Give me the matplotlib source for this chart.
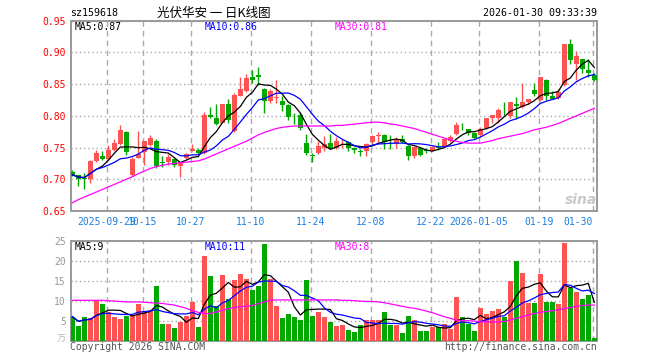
import matplotlib.pyplot as plt
import numpy as np
import pandas as pd

plt.rcParams['font.family'] = ['DejaVu Sans Mono', 'Noto Sans CJK SC']

# daily candles, 2025-09-19 .. 2026-01-30
opens = [0.712, 0.706, 0.702, 0.700, 0.729, 0.737, 0.732, 0.746, 0.755, 0.775,
         0.707, 0.734, 0.743, 0.754, 0.760, 0.727, 0.728, 0.732, 0.721, 0.733,
         0.745, 0.746, 0.741, 0.802, 0.796, 0.789, 0.818, 0.776, 0.832, 0.839,
         0.861, 0.864, 0.842, 0.823, 0.828, 0.823, 0.817, 0.797, 0.802, 0.757,
         0.738, 0.741, 0.750, 0.757, 0.750, 0.758, 0.759, 0.750, 0.744, 0.744,
         0.758, 0.769, 0.770, 0.757, 0.755, 0.764, 0.753, 0.736, 0.749, 0.746,
         0.745, 0.751, 0.753, 0.760, 0.771, 0.786, 0.779, 0.773, 0.770, 0.781,
         0.796, 0.797, 0.808, 0.799, 0.819, 0.814, 0.822, 0.841, 0.825, 0.856,
         0.831, 0.828, 0.848, 0.914, 0.881, 0.889, 0.873, 0.865]
highs = [0.714, 0.707, 0.710, 0.731, 0.746, 0.744, 0.754, 0.763, 0.786, 0.776,
         0.735, 0.776, 0.761, 0.770, 0.763, 0.737, 0.740, 0.733, 0.728, 0.742,
         0.755, 0.750, 0.806, 0.814, 0.818, 0.819, 0.826, 0.836, 0.862, 0.866,
         0.873, 0.877, 0.844, 0.842, 0.857, 0.831, 0.819, 0.805, 0.804, 0.771,
         0.742, 0.760, 0.768, 0.771, 0.767, 0.763, 0.760, 0.751, 0.747, 0.757,
         0.770, 0.775, 0.771, 0.770, 0.767, 0.770, 0.754, 0.752, 0.751, 0.749,
         0.753, 0.758, 0.765, 0.770, 0.791, 0.788, 0.780, 0.774, 0.782, 0.797,
         0.802, 0.812, 0.822, 0.822, 0.829, 0.851, 0.827, 0.851, 0.861, 0.858,
         0.839, 0.842, 0.914, 0.921, 0.902, 0.890, 0.890, 0.867]
lows = [0.705, 0.690, 0.684, 0.694, 0.728, 0.731, 0.731, 0.745, 0.754, 0.738,
        0.705, 0.733, 0.722, 0.752, 0.718, 0.719, 0.722, 0.719, 0.704, 0.732,
        0.744, 0.740, 0.740, 0.797, 0.785, 0.788, 0.788, 0.775, 0.831, 0.837,
        0.852, 0.849, 0.805, 0.821, 0.820, 0.807, 0.794, 0.787, 0.778, 0.738,
        0.728, 0.740, 0.744, 0.747, 0.748, 0.749, 0.745, 0.741, 0.737, 0.737,
        0.756, 0.757, 0.748, 0.748, 0.749, 0.757, 0.730, 0.733, 0.737, 0.741,
        0.744, 0.746, 0.752, 0.759, 0.770, 0.778, 0.770, 0.764, 0.767, 0.779,
        0.789, 0.788, 0.801, 0.796, 0.795, 0.813, 0.819, 0.831, 0.823, 0.825,
        0.826, 0.827, 0.847, 0.881, 0.856, 0.868, 0.862, 0.855]
closes = [0.707, 0.700, 0.701, 0.729, 0.742, 0.732, 0.746, 0.757, 0.777, 0.743,
          0.732, 0.740, 0.760, 0.765, 0.721, 0.726, 0.735, 0.723, 0.727, 0.740,
          0.748, 0.741, 0.802, 0.798, 0.787, 0.818, 0.794, 0.833, 0.842, 0.859,
          0.857, 0.861, 0.824, 0.839, 0.830, 0.817, 0.798, 0.796, 0.781, 0.742,
          0.737, 0.752, 0.755, 0.750, 0.760, 0.759, 0.750, 0.746, 0.743, 0.756,
          0.768, 0.770, 0.759, 0.756, 0.764, 0.759, 0.736, 0.751, 0.739, 0.745,
          0.751, 0.750, 0.764, 0.767, 0.785, 0.785, 0.773, 0.765, 0.780, 0.796,
          0.801, 0.810, 0.807, 0.822, 0.815, 0.822, 0.826, 0.835, 0.861, 0.832,
          0.827, 0.837, 0.914, 0.888, 0.895, 0.874, 0.867, 0.857]
# volume in 万
volumes = [6.0, 3.7, 5.9, 5.8, 10.1, 9.2, 7.2, 5.9, 5.4, 6.3,
           6.2, 9.2, 7.4, 7.6, 13.6, 4.3, 4.3, 3.3, 4.8, 6.3,
           9.8, 3.5, 21.2, 16.1, 8.7, 16.4, 10.4, 15.3, 16.6, 15.5,
           12.6, 13.6, 24.2, 15.4, 8.6, 5.7, 6.7, 5.9, 5.2, 15.2,
           6.1, 7.1, 5.9, 4.7, 3.7, 3.9, 2.7, 2.2, 3.9, 5.2,
           5.2, 5.2, 7.2, 3.9, 3.9, 1.9, 6.2, 5.2, 2.4, 2.4,
           3.4, 3.4, 4.2, 2.9, 10.9, 5.9, 4.2, 2.4, 8.2, 6.7,
           7.4, 7.9, 5.9, 14.9, 19.9, 16.9, 9.4, 9.4, 16.7, 9.7,
           9.7, 9.2, 24.5, 13.2, 12.2, 10.4, 11.4, 0.7]
# 30-day averages as drawn (they need history before the window)
ma30_price = [0.663, 0.668, 0.672, 0.676, 0.680, 0.684, 0.688, 0.692, 0.696, 0.700,
              0.704, 0.709, 0.713, 0.717, 0.720, 0.722, 0.724, 0.725, 0.726, 0.727,
              0.728, 0.729, 0.732, 0.736, 0.740, 0.744, 0.748, 0.752, 0.756, 0.760,
              0.765, 0.770, 0.774, 0.777, 0.780, 0.782, 0.783, 0.784, 0.784, 0.784,
              0.784, 0.784, 0.784, 0.784, 0.785, 0.785, 0.786, 0.787, 0.788, 0.789,
              0.790, 0.790, 0.789, 0.787, 0.786, 0.784, 0.782, 0.780, 0.777, 0.774,
              0.771, 0.768, 0.765, 0.762, 0.760, 0.758, 0.757, 0.757, 0.757, 0.759,
              0.761, 0.764, 0.766, 0.768, 0.770, 0.772, 0.775, 0.778, 0.780, 0.782,
              0.785, 0.788, 0.792, 0.796, 0.800, 0.804, 0.808, 0.812]
ma30_vol = [10.1, 10.1, 10.1, 10.1, 10.1, 10.1, 10.0, 9.9, 9.8, 9.7,
            9.7, 9.7, 9.6, 9.5, 9.4, 9.3, 9.1, 8.9, 8.5, 8.1,
            7.5, 7.1, 6.8, 6.8, 7.2, 7.6, 8.0, 8.3, 8.5, 8.6,
            8.8, 9.3, 9.7, 10.1, 10.2, 10.2, 10.2, 10.2, 10.2, 10.2,
            10.2, 10.2, 10.2, 10.2, 10.2, 10.1, 10.1, 10.0, 9.9, 9.8,
            9.8, 9.7, 9.5, 9.2, 8.9, 8.6, 8.3, 8.1, 7.8, 7.4,
            7.0, 6.5, 6.0, 5.6, 5.1, 5.0, 5.0, 4.9, 4.7, 4.7,
            4.7, 4.7, 4.8, 5.2, 5.6, 6.0, 6.4, 6.8, 7.1, 7.3,
            7.5, 7.7, 8.0, 8.3, 8.6, 8.8, 8.9, 8.9]

tick_idx = [6, 12, 20, 30, 40, 50, 60, 68, 78, 87]
tick_labels = ['2025-09-29', '10-15', '10-27', '11-10', '11-24', '12-08',
               '12-22', '2026-01-05', '01-19', '01-30']
price_ticks = [0.65, 0.70, 0.75, 0.80, 0.85, 0.90, 0.95]
vol_ticks = [5, 10, 15, 20, 25]

RED = '#ff5252'
GREEN = '#00a800'
GRID = '#aaaaaa'
W, H = 660, 360


def box(l, t, r, b):
    return [l / W, 1 - b / H, (r - l) / W, (b - t) / H]


fig = plt.figure(figsize=(6.6, 3.6), dpi=100)
ax = fig.add_axes(box(70.6, 20.7, 597, 211))
axv = fig.add_axes(box(70.6, 240.7, 597, 340.7))

x = np.arange(len(closes))
o = np.array(opens)
c = np.array(closes)
colors = np.where(c >= o, RED, GREEN)

ax.vlines(x, lows, highs, colors=colors, lw=1, zorder=3)
ax.bar(x, np.maximum(np.abs(c - o), 0.0007), bottom=np.minimum(o, c),
       width=0.78, color=colors, lw=0, zorder=3)

ma5 = pd.Series(closes).rolling(5, min_periods=1).mean()
ma10 = pd.Series(closes).rolling(10, min_periods=1).mean()
ax.plot(x, ma5, color='black', lw=0.9, zorder=4)
ax.plot(x, ma10, color='#0000ff', lw=0.9, zorder=4)
ax.plot(x, ma30_price, color='#ff00ff', lw=0.9, zorder=4)

axv.bar(x, volumes, width=0.82, color=colors, lw=0, zorder=3)
vma5 = pd.Series(volumes).rolling(5, min_periods=1).mean()
vma10 = pd.Series(volumes).rolling(10, min_periods=1).mean()
axv.plot(x, vma5, color='black', lw=0.9, zorder=4)
axv.plot(x, vma10, color='#0000ff', lw=0.9, zorder=4)
axv.plot(x, ma30_vol, color='#ff00ff', lw=0.9, zorder=4)

for a in (ax, axv):
    a.set_xlim(-0.3, 87.45)
    a.set_xticks(np.array(tick_idx) - 0.27)
    a.grid(axis='x', color=GRID, ls=(0, (4, 3)), lw=1)
    a.grid(axis='y', color=GRID, ls=(0, (1, 2)), lw=1)
    a.set_axisbelow(True)
    a.tick_params(length=0, labelsize=7, pad=3.5)
    for s in a.spines.values():
        s.set_color('#999999')
        s.set_linewidth(1.4)

ax.set_ylim(0.65, 0.95)
ax.set_yticks(price_ticks)
ax.set_yticklabels([f'{t:.2f}' for t in price_ticks], color='#ff0000')
ax.set_xticklabels(tick_labels, color='#1a7fe0')
ax.get_xticklabels()[-1].set_ha('right')
ax.tick_params(axis='x', pad=4)

axv.set_ylim(0, 25)
axv.set_yticks(vol_ticks)
axv.set_yticklabels([str(t) for t in vol_ticks], color='#999999')
axv.set_xticklabels([])


def ftext(px, py, s, **kw):
    fig.text(px / W, 1 - py / H, s, va='center', **kw)


ftext(70, 13.5, 'sz159618', fontsize=7.2)
ftext(214, 13.5, '光伏华安 一 日K线图', ha='center', fontsize=9,
      family=['Noto Sans CJK SC', 'DejaVu Sans'])
ftext(597, 13.5, '2026-01-30 09:33:39', ha='right', fontsize=7.2)

ftext(75, 26.5, 'MA5:0.87', fontsize=7, color='black')
ftext(205, 26.5, 'MA10:0.86', fontsize=7, color='#0000ff')
ftext(335, 26.5, 'MA30:0.81', fontsize=7, color='#ff00ff')
ftext(75, 246.5, 'MA5:9', fontsize=7, color='black')
ftext(205, 246.5, 'MA10:11', fontsize=7, color='#0000ff')
ftext(335, 246.5, 'MA30:8', fontsize=7, color='#ff00ff')

ftext(66, 339, '万', ha='right', fontsize=6.5, color='#bbbbbb',
      family=['Noto Sans CJK SC', 'DejaVu Sans'])
ftext(70, 347, 'Copyright 2026 SINA.COM', fontsize=7, color='#555555')
ftext(597, 347, 'http://finance.sina.com.cn', ha='right', fontsize=7,
      color='#555555')
ftext(581, 200, 'sina', ha='center', fontsize=10, color='#c8c8c8',
      style='italic', weight='bold', family=['DejaVu Sans'])

fig.savefig('out.png', dpi=100)
